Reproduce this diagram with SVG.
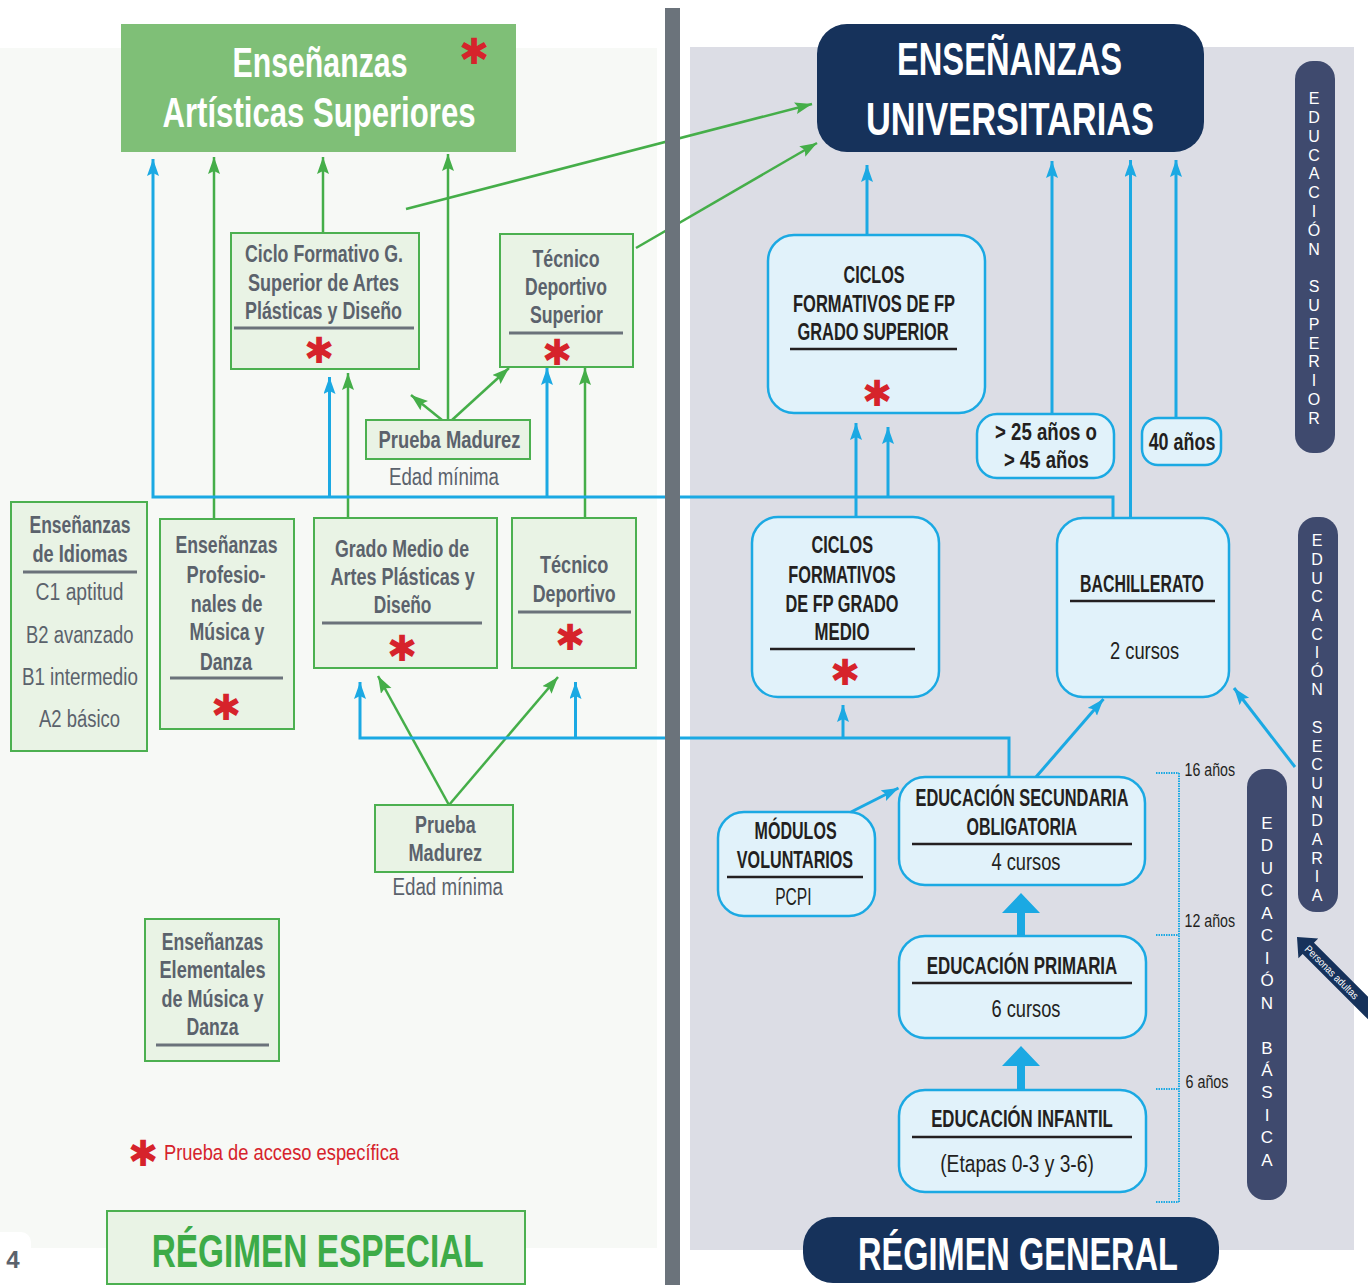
<svg xmlns="http://www.w3.org/2000/svg" width="1368" height="1285" viewBox="0 0 1368 1285">
<style>
.t{font-family:"Liberation Sans Narrow","Liberation Sans",Arial,sans-serif;text-anchor:middle}
.lb{font-size:23px;font-weight:bold;fill:#5b626c}
.ll{font-size:23px;font-weight:normal;fill:#5b626c}
.rb{font-size:23px;font-weight:bold;fill:#231f20}
.rl{font-size:23px;font-weight:normal;fill:#231f20}
.big{font-size:46px;font-weight:bold;fill:#fff}
.age{font-size:17.5px;font-weight:normal;fill:#231f20;text-anchor:start}
.ast{font-family:"DejaVu Sans",sans-serif;font-weight:bold;font-size:36px;fill:#d6232b;text-anchor:middle}
.vl{font-family:"Liberation Sans",Arial,sans-serif;font-size:16px;fill:#fff;text-anchor:middle}
.gbox{fill:#e9f3e5;stroke:#4cb050;stroke-width:2}
.bbox{fill:#e1f2fa;stroke:#1ba9e3;stroke-width:2.5}
.ulg{stroke:#6b727b;stroke-width:3}
.ulb{stroke:#231f20;stroke-width:2.5}
.g{fill:none;stroke:#45ae49;stroke-width:2.5}
.b{fill:none;stroke:#1ba9e3;stroke-width:3}
.side{fill:#3f4a6e}
</style>
<defs>
<marker id="ag" markerUnits="userSpaceOnUse" markerWidth="18" markerHeight="14" refX="17" refY="6" orient="auto"><path d="M0,0 L17,6 L0,12 L3,6 z" fill="#45ae49"/></marker>
<marker id="ab" markerUnits="userSpaceOnUse" markerWidth="18" markerHeight="14" refX="17" refY="6" orient="auto"><path d="M0,0 L17,6 L0,12 L3,6 z" fill="#1ba9e3"/></marker>
</defs>
<rect width="1368" height="1285" fill="#fff"/>
<rect x="0" y="48" width="657" height="1200" fill="#f7f9f6"/>
<rect x="-10" y="1232" width="41" height="60" rx="10" fill="#fff"/>
<rect x="690" y="47" width="664" height="1203" fill="#dcdde5"/>

<g id="connectors">
<path class="g" d="M214,519 V157" marker-end="url(#ag)"/>
<path class="g" d="M323,233 V157" marker-end="url(#ag)"/>
<path class="g" d="M448,420 V154" marker-end="url(#ag)"/>
<path class="g" d="M442,420 L411,395" marker-end="url(#ag)"/>
<path class="g" d="M452,420 L509,368" marker-end="url(#ag)"/>
<path class="g" d="M406,209 L812,104" marker-end="url(#ag)"/>
<path class="g" d="M636,248 L817,143" marker-end="url(#ag)"/>
<path class="g" d="M348,518 V373" marker-end="url(#ag)"/>
<path class="g" d="M585,518 V368" marker-end="url(#ag)"/>
<path class="g" d="M449,805 L378,676" marker-end="url(#ag)"/>
<path class="g" d="M449,805 L558,677" marker-end="url(#ag)"/>
<path class="b" d="M1113,518 V497 H153 V159" marker-end="url(#ab)"/>
<path class="b" d="M329.5,497 V377" marker-end="url(#ab)"/>
<path class="b" d="M547,497 V368" marker-end="url(#ab)"/>
<path class="b" d="M888,497 V427" marker-end="url(#ab)"/>
<path class="b" d="M856,517 V423" marker-end="url(#ab)"/>
<path class="b" d="M867,235 V165" marker-end="url(#ab)"/>
<path class="b" d="M1052,414 V161" marker-end="url(#ab)"/>
<path class="b" d="M1130.5,517 V160" marker-end="url(#ab)"/>
<path class="b" d="M1176,418 V160" marker-end="url(#ab)"/>
<path class="b" d="M1009,777 V738 H360 V682" marker-end="url(#ab)"/>
<path class="b" d="M575.5,738 V682" marker-end="url(#ab)"/>
<path class="b" d="M843,738 V705" marker-end="url(#ab)"/>
<path class="b" d="M1036,777 L1103.5,699" marker-end="url(#ab)"/>
<path class="b" d="M1295,767 L1234,688" marker-end="url(#ab)"/>
<path class="b" d="M851,812 L898.5,788" marker-end="url(#ab)"/>
<path d="M1017,913 H1025 V937 H1017 Z M1021,893 L1040,913 L1002,913 Z" fill="#1ba9e3"/>
<path d="M1017,1066 H1025 V1090 H1017 Z M1021,1046 L1040,1066 L1002,1066 Z" fill="#1ba9e3"/>
</g>

<rect x="665" y="8" width="15" height="1277" fill="#6b737b"/>

<g id="artisticas-superiores">
<rect x="121" y="24" width="395" height="128" fill="#7fbf77"/>
<text class="t big" style="font-size:42px"><tspan x="320" y="77" textLength="175" lengthAdjust="spacingAndGlyphs">Enseñanzas</tspan><tspan class="ast" x="474" y="64">✱</tspan></text>
<text class="t big" x="319" y="127" textLength="313" lengthAdjust="spacingAndGlyphs" style="font-size:42px">Artísticas Superiores</text>
</g>

<g id="ciclo-superior-artes">
<rect class="gbox" x="231" y="233" width="188" height="136"/>
<text class="t lb" x="324" y="262" textLength="158" lengthAdjust="spacingAndGlyphs">Ciclo Formativo G.</text>
<text class="t lb" x="323.5" y="291" textLength="151" lengthAdjust="spacingAndGlyphs">Superior de Artes</text>
<text class="t lb" x="323.5" y="319" textLength="157" lengthAdjust="spacingAndGlyphs">Plásticas y Diseño</text>
<line class="ulg" x1="234" y1="328" x2="414" y2="328"/>
<text class="ast" x="319" y="363">✱</text>
</g>

<g id="tecnico-deportivo-superior">
<rect class="gbox" x="500" y="234" width="133" height="133"/>
<text class="t lb" x="566" y="267" textLength="67" lengthAdjust="spacingAndGlyphs">Técnico</text>
<text class="t lb" x="566" y="295" textLength="82" lengthAdjust="spacingAndGlyphs">Deportivo</text>
<text class="t lb" x="566.4" y="323" textLength="73" lengthAdjust="spacingAndGlyphs">Superior</text>
<line class="ulg" x1="509" y1="333" x2="623" y2="333"/>
<text class="ast" x="557" y="365">✱</text>
</g>

<g id="prueba-madurez-1">
<rect class="gbox" x="366" y="420" width="164" height="39"/>
<text class="t lb" x="449.5" y="448" textLength="142" lengthAdjust="spacingAndGlyphs">Prueba Madurez</text>
<text class="t ll" x="444" y="485" textLength="110" lengthAdjust="spacingAndGlyphs">Edad mínima</text>
</g>

<g id="idiomas">
<rect class="gbox" x="11" y="502" width="136" height="249"/>
<text class="t lb" x="80" y="533" textLength="101" lengthAdjust="spacingAndGlyphs">Enseñanzas</text>
<text class="t lb" x="80" y="562" textLength="95" lengthAdjust="spacingAndGlyphs">de Idiomas</text>
<line class="ulg" x1="23" y1="572" x2="137" y2="572"/>
<text class="t ll" x="79.6" y="600" textLength="88" lengthAdjust="spacingAndGlyphs">C1 aptitud</text>
<text class="t ll" x="79.8" y="643" textLength="107.5" lengthAdjust="spacingAndGlyphs">B2 avanzado</text>
<text class="t ll" x="79.9" y="685" textLength="116" lengthAdjust="spacingAndGlyphs">B1 intermedio</text>
<text class="t ll" x="79.5" y="727" textLength="81" lengthAdjust="spacingAndGlyphs">A2 básico</text>
</g>

<g id="profesionales-musica-danza">
<rect class="gbox" x="160" y="519" width="134" height="210"/>
<text class="t lb" x="226.5" y="553" textLength="102" lengthAdjust="spacingAndGlyphs">Enseñanzas</text>
<text class="t lb" x="226" y="583" textLength="79" lengthAdjust="spacingAndGlyphs">Profesio-</text>
<text class="t lb" x="226.6" y="612" textLength="71.6" lengthAdjust="spacingAndGlyphs">nales de</text>
<text class="t lb" x="227" y="640" textLength="75" lengthAdjust="spacingAndGlyphs">Música y</text>
<text class="t lb" x="226" y="670" textLength="52" lengthAdjust="spacingAndGlyphs">Danza</text>
<line class="ulg" x1="170" y1="678" x2="283" y2="678"/>
<text class="ast" x="226" y="720">✱</text>
</g>

<g id="grado-medio-artes">
<rect class="gbox" x="314" y="518" width="183" height="150"/>
<text class="t lb" x="402" y="557" textLength="134" lengthAdjust="spacingAndGlyphs">Grado Medio de</text>
<text class="t lb" x="402.6" y="585" textLength="144.4" lengthAdjust="spacingAndGlyphs">Artes Plásticas y</text>
<text class="t lb" x="402.6" y="613" textLength="57.7" lengthAdjust="spacingAndGlyphs">Diseño</text>
<line class="ulg" x1="322" y1="623" x2="482" y2="623"/>
<text class="ast" x="402" y="661">✱</text>
</g>

<g id="tecnico-deportivo">
<rect class="gbox" x="512" y="518" width="124" height="150"/>
<text class="t lb" x="574.2" y="573" textLength="68.5" lengthAdjust="spacingAndGlyphs">Técnico</text>
<text class="t lb" x="574.2" y="602" textLength="83" lengthAdjust="spacingAndGlyphs">Deportivo</text>
<line class="ulg" x1="518" y1="612" x2="631" y2="612"/>
<text class="ast" x="570" y="650">✱</text>
</g>

<g id="prueba-madurez-2">
<rect class="gbox" x="375" y="805" width="138" height="67"/>
<text class="t lb" x="445.4" y="833" textLength="60.7" lengthAdjust="spacingAndGlyphs">Prueba</text>
<text class="t lb" x="445.3" y="861" textLength="73.7" lengthAdjust="spacingAndGlyphs">Madurez</text>
<text class="t ll" x="447.7" y="895" textLength="110.5" lengthAdjust="spacingAndGlyphs">Edad mínima</text>
</g>

<g id="elementales-musica-danza">
<rect class="gbox" x="145" y="919" width="134" height="142"/>
<text class="t lb" x="212.5" y="950" textLength="101.5" lengthAdjust="spacingAndGlyphs">Enseñanzas</text>
<text class="t lb" x="212.5" y="978" textLength="106" lengthAdjust="spacingAndGlyphs">Elementales</text>
<text class="t lb" x="212.5" y="1007" textLength="102" lengthAdjust="spacingAndGlyphs">de Música y</text>
<text class="t lb" x="212.5" y="1035" textLength="52" lengthAdjust="spacingAndGlyphs">Danza</text>
<line class="ulg" x1="156" y1="1045" x2="269" y2="1045"/>
</g>

<g id="legend">
<text class="ast" x="143" y="1166">✱</text>
<text class="t" x="164" y="1160" style="text-anchor:start;font-size:22px;fill:#d6232b" textLength="235" lengthAdjust="spacingAndGlyphs">Prueba de acceso específica</text>
</g>

<g id="regimen-especial">
<rect class="gbox" x="107" y="1211" width="418" height="73"/>
<text class="t" x="317.7" y="1267" style="font-size:46px;font-weight:bold;fill:#3dab48" textLength="332" lengthAdjust="spacingAndGlyphs">RÉGIMEN ESPECIAL</text>
</g>
<text class="t" x="13" y="1268" style="font-size:24px;font-weight:bold;fill:#5b626c">4</text>

<g id="universitarias">
<rect x="817" y="24" width="387" height="128" rx="30" fill="#16325b"/>
<text class="t big" x="1009.5" y="75" textLength="225" lengthAdjust="spacingAndGlyphs">ENSEÑANZAS</text>
<text class="t big" x="1010" y="135" textLength="288" lengthAdjust="spacingAndGlyphs">UNIVERSITARIAS</text>
</g>

<g id="cf-grado-superior">
<rect class="bbox" x="768" y="235" width="217" height="178" rx="26"/>
<text class="t rb" x="874" y="283" textLength="61" lengthAdjust="spacingAndGlyphs">CICLOS</text>
<text class="t rb" x="874" y="312" textLength="162" lengthAdjust="spacingAndGlyphs">FORMATIVOS DE FP</text>
<text class="t rb" x="873" y="340" textLength="151" lengthAdjust="spacingAndGlyphs">GRADO SUPERIOR</text>
<line class="ulb" x1="790" y1="349" x2="957" y2="349"/>
<text class="ast" x="877" y="406">✱</text>
</g>

<g id="mayores-25-45">
<rect class="bbox" x="977" y="414" width="137" height="64" rx="20"/>
<text class="t rb" x="1046" y="440" textLength="102" lengthAdjust="spacingAndGlyphs">&gt; 25 años o</text>
<text class="t rb" x="1046.4" y="468" textLength="85" lengthAdjust="spacingAndGlyphs">&gt; 45 años</text>
</g>

<g id="mayores-40">
<rect class="bbox" x="1142" y="418" width="79" height="47" rx="16"/>
<text class="t rb" x="1182" y="450" textLength="66.7" lengthAdjust="spacingAndGlyphs">40 años</text>
</g>

<g id="educacion-superior-bar">
<rect class="side" x="1295" y="61" width="40" height="392" rx="18"/>
<text class="vl"><tspan x="1314" y="104">E</tspan><tspan x="1314" y="123">D</tspan><tspan x="1314" y="142">U</tspan><tspan x="1314" y="161">C</tspan><tspan x="1314" y="179">A</tspan><tspan x="1314" y="198">C</tspan><tspan x="1314" y="217">I</tspan><tspan x="1314" y="236">Ó</tspan><tspan x="1314" y="255">N</tspan><tspan x="1314" y="292">S</tspan><tspan x="1314" y="311">U</tspan><tspan x="1314" y="330">P</tspan><tspan x="1314" y="349">E</tspan><tspan x="1314" y="367">R</tspan><tspan x="1314" y="386">I</tspan><tspan x="1314" y="405">O</tspan><tspan x="1314" y="424">R</tspan></text>
</g>

<g id="cf-grado-medio">
<rect class="bbox" x="752" y="517" width="187" height="180" rx="26"/>
<text class="t rb" x="842.3" y="553" textLength="61.4" lengthAdjust="spacingAndGlyphs">CICLOS</text>
<text class="t rb" x="842" y="583" textLength="107.5" lengthAdjust="spacingAndGlyphs">FORMATIVOS</text>
<text class="t rb" x="842" y="612" textLength="113" lengthAdjust="spacingAndGlyphs">DE FP GRADO</text>
<text class="t rb" x="842" y="640" textLength="55" lengthAdjust="spacingAndGlyphs">MEDIO</text>
<line class="ulb" x1="770" y1="649" x2="915" y2="649"/>
<text class="ast" x="845" y="685">✱</text>
</g>

<g id="bachillerato">
<rect class="bbox" x="1057" y="518" width="172" height="179" rx="26"/>
<text class="t rb" x="1142" y="592" textLength="124" lengthAdjust="spacingAndGlyphs">BACHILLERATO</text>
<line class="ulb" x1="1070" y1="601" x2="1215" y2="601"/>
<text class="t rl" x="1144.6" y="659" textLength="69.3" lengthAdjust="spacingAndGlyphs">2 cursos</text>
</g>

<g id="educacion-secundaria-bar">
<rect class="side" x="1298" y="517" width="40" height="395" rx="18"/>
<text class="vl"><tspan x="1317" y="546">E</tspan><tspan x="1317" y="565">D</tspan><tspan x="1317" y="584">U</tspan><tspan x="1317" y="602">C</tspan><tspan x="1317" y="621">A</tspan><tspan x="1317" y="640">C</tspan><tspan x="1317" y="658">I</tspan><tspan x="1317" y="677">Ó</tspan><tspan x="1317" y="695">N</tspan><tspan x="1317" y="733">S</tspan><tspan x="1317" y="752">E</tspan><tspan x="1317" y="770">C</tspan><tspan x="1317" y="789">U</tspan><tspan x="1317" y="808">N</tspan><tspan x="1317" y="826">D</tspan><tspan x="1317" y="845">A</tspan><tspan x="1317" y="864">R</tspan><tspan x="1317" y="882">I</tspan><tspan x="1317" y="901">A</tspan></text>
</g>

<g id="eso">
<rect class="bbox" x="899" y="777" width="246" height="108" rx="26"/>
<text class="t rb" x="1022" y="806" textLength="213" lengthAdjust="spacingAndGlyphs">EDUCACIÓN SECUNDARIA</text>
<text class="t rb" x="1021.8" y="835" textLength="110.6" lengthAdjust="spacingAndGlyphs">OBLIGATORIA</text>
<line class="ulb" x1="912" y1="844" x2="1132" y2="844"/>
<text class="t rl" x="1026" y="870" textLength="69" lengthAdjust="spacingAndGlyphs">4 cursos</text>
</g>

<g id="modulos-voluntarios">
<rect class="bbox" x="718" y="812" width="157" height="104" rx="26"/>
<text class="t rb" x="795.6" y="839" textLength="82" lengthAdjust="spacingAndGlyphs">MÓDULOS</text>
<text class="t rb" x="795" y="868" textLength="116.3" lengthAdjust="spacingAndGlyphs">VOLUNTARIOS</text>
<line class="ulb" x1="727" y1="877" x2="863" y2="877"/>
<text class="t rl" x="793.4" y="905" textLength="36.4" lengthAdjust="spacingAndGlyphs">PCPI</text>
</g>

<g id="primaria">
<rect class="bbox" x="899" y="936" width="247" height="102" rx="26"/>
<text class="t rb" x="1022" y="974" textLength="190.5" lengthAdjust="spacingAndGlyphs">EDUCACIÓN PRIMARIA</text>
<line class="ulb" x1="912" y1="983" x2="1132" y2="983"/>
<text class="t rl" x="1026" y="1017" textLength="69" lengthAdjust="spacingAndGlyphs">6 cursos</text>
</g>

<g id="infantil">
<rect class="bbox" x="899" y="1090" width="247" height="102" rx="26"/>
<text class="t rb" x="1022" y="1127" textLength="181.6" lengthAdjust="spacingAndGlyphs">EDUCACIÓN INFANTIL</text>
<line class="ulb" x1="912" y1="1137" x2="1132" y2="1137"/>
<text class="t rl" x="1017" y="1172" textLength="153.6" lengthAdjust="spacingAndGlyphs">(Etapas 0-3 y 3-6)</text>
</g>

<g id="edades">
<path d="M1179,773 V1203 M1156,773 H1179 M1156,935 H1179 M1156,1089 H1179 M1156,1202 H1179" fill="none" stroke="#1ba9e3" stroke-width="2" stroke-dasharray="1.5 1"/>
<text class="t age" x="1184.6" y="776" textLength="50.5" lengthAdjust="spacingAndGlyphs">16 años</text>
<text class="t age" x="1184.6" y="927" textLength="50.5" lengthAdjust="spacingAndGlyphs">12 años</text>
<text class="t age" x="1185.5" y="1088" textLength="43" lengthAdjust="spacingAndGlyphs">6 años</text>
</g>

<g id="educacion-basica-bar">
<rect class="side" x="1247" y="769" width="40" height="431" rx="18"/>
<text class="vl" style="font-size:17px"><tspan x="1267" y="829">E</tspan><tspan x="1267" y="851">D</tspan><tspan x="1267" y="874">U</tspan><tspan x="1267" y="896">C</tspan><tspan x="1267" y="919">A</tspan><tspan x="1267" y="941">C</tspan><tspan x="1267" y="964">I</tspan><tspan x="1267" y="986">Ó</tspan><tspan x="1267" y="1009">N</tspan><tspan x="1267" y="1054">B</tspan><tspan x="1267" y="1076">Á</tspan><tspan x="1267" y="1098">S</tspan><tspan x="1267" y="1121">I</tspan><tspan x="1267" y="1143">C</tspan><tspan x="1267" y="1166">A</tspan></text>
</g>

<g id="personas-adultas" transform="translate(1297,937) rotate(45)">
<polygon points="0,0 16,-14 16,-8 115,-8 115,8 16,8 16,14" fill="#16325b"/>
<text x="14" y="4" style="font-family:'Liberation Sans',Arial,sans-serif;font-size:10.5px;fill:#fff" textLength="71" lengthAdjust="spacingAndGlyphs">Personas adultas</text>
</g>

<g id="regimen-general">
<rect x="803" y="1217" width="416" height="66" rx="30" fill="#16325b"/>
<text class="t big" x="1018" y="1270" textLength="320" lengthAdjust="spacingAndGlyphs">RÉGIMEN GENERAL</text>
</g>
</svg>
